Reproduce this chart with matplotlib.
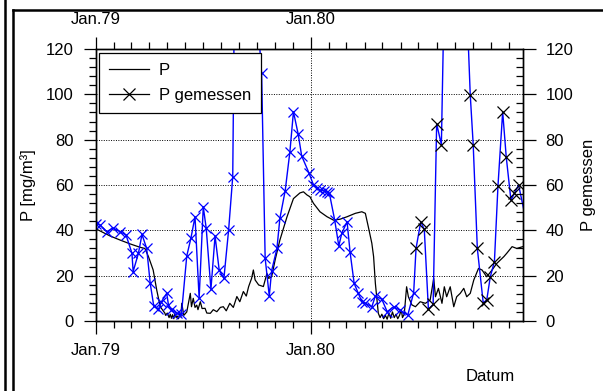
# -*- coding: utf-8 -*-
"""
P modell vs. P gemessen, Jan.79 - Jan.81
"""
import numpy as np
import matplotlib.pyplot as plt
from matplotlib.lines import Line2D
from matplotlib.ticker import MultipleLocator, FixedLocator

plt.rcParams['font.family'] = ['Liberation Sans', 'DejaVu Sans']
plt.rcParams['font.size'] = 12

# x = days since 1 Jan 1979
tick_days = [0, 365]
tick_labels = ['Jan.79', 'Jan.80']

# P (model)
p_day = [1, 24, 41, 58, 75, 83, 89, 97, 103, 109, 117,
         118, 121, 124, 126, 128, 130, 132, 134, 136, 138, 140, 142, 144,
         145.5, 149, 154, 160, 162, 165, 168, 171, 173, 177, 180, 185, 188,
         194, 199, 205, 211, 216, 221, 227, 233, 239, 244, 250, 255, 259,
         264, 267, 270, 276, 284, 290, 293, 298, 304, 312, 324, 335, 346,
         352, 358, 363, 369, 380, 392, 403, 414, 426, 440, 451, 457, 462,
         468, 471, 474, 479,
         482, 485, 488, 491, 494, 497, 500, 503, 506, 509, 512, 515, 518,
         520, 523,
         527, 530, 536, 542, 550, 559, 567, 573, 576, 581, 587, 591, 595,
         601, 607, 612, 618, 624, 629, 635, 641, 649, 655, 663, 672, 680,
         692, 697, 706, 714, 724]
p_val = [40.5, 37.5, 35.7, 34, 32.5, 32, 28.4, 22.5, 13.7, 6.3, 3.4,
         2.5, 3.5, 1.5, 3, 1.2, 2.8, 1, 3.2, 1.5, 2.2, 1, 3, 1.8,
         7.8, 2.5, 4, 12.2, 6.3, 10, 6, 7, 5, 8.5, 5.5, 5.6, 3.5,
         3.4, 5, 4.1, 6, 6.3, 4.5, 7.8, 6, 10.8, 8.5, 13, 11, 15.2,
         18.8, 22.5, 18.1, 15.9, 15.2, 21, 18.8, 19.5, 27, 35.7, 45.9, 54, 56.5,
         57, 55.6, 54.8, 51.9, 48.2, 46, 44.5, 44.9, 46, 47.5, 48.2, 47.5, 41.6,
         34.3, 28.4, 16.6, 3.4,
         1.5, 3, 1, 2.5, 0.8, 3.5, 1.2, 4, 1.5, 3, 1, 2.5, 5,
         1.5, 3,
         15.1, 10.7, 7.1, 6.3, 8.5, 7.8, 9.3, 18.8, 10.7, 14.4, 7.8, 15.1, 10.7,
         15.1, 6.3, 10.7, 12.2, 14.4, 10.7, 12.2, 18.1, 23.2, 22.5, 19.5, 22.5, 25.4,
         28.4, 29.9, 32.8, 32, 32.8]

# P gemessen, first part (blue crosses)
pm_day = [0, 7, 18, 29, 41, 51, 61, 63, 72, 78, 86, 92, 98, 106, 111,
          120, 123, 128, 137, 145, 154, 161, 168, 175, 182, 187, 195, 202,
          209, 217, 225, 232, 239, 281, 287, 294, 298, 307, 312, 321, 329,
          335, 343, 349, 361, 369, 375, 380, 386, 392, 396, 405, 412, 417,
          426, 431, 438, 445, 451, 457, 468, 474, 485, 494, 505, 515, 529, 539]
pm_val = [43, 42.3, 39.4, 41, 39.4, 37.9, 29.9, 21.8, 29.9, 38.2, 32, 16.6,
          6.6, 5.2, 8.5, 12.2, 7, 4.9, 3.4, 3.1, 28.7, 36.5, 46, 10, 50.4,
          40.9, 14, 37.5, 22.5, 18.8, 40.1, 63.7, 260, 109.3, 27.7, 11, 22.2,
          32, 45.3, 57.5, 74.7, 92.3, 82.5, 72.8, 65.5, 60, 58.5, 57.8, 57.5,
          57, 56.3, 44.5, 33.1, 38.7, 43.8, 30.6, 16.6, 12.2, 8.5, 7.8, 6.3,
          11, 9.6, 4.1, 6.3, 4.9, 2.6, 12.5]

# P gemessen, second part (black crosses)
pm2_day = [543, 551, 557, 564, 572, 578, 586, 603, 635, 640, 647, 657, 663,
           669, 676, 682, 690, 696, 704, 710, 717, 730]
pm2_val = [32, 43.8, 40.4, 5.2, 7.3, 87, 77.8, 316, 99.7, 77.8, 32, 8, 9.3,
           19.5, 26.2, 59.5, 92.3, 72.5, 53.4, 56.3, 60, 44]

fig = plt.figure(figsize=(6.03, 3.91), dpi=100)
ax = fig.add_axes([96 / 603, 70 / 391, 427.3 / 603, 272 / 391])

ax.plot(p_day, p_val, color='black', lw=0.9, zorder=3)
ax.plot(pm_day + pm2_day, pm_val + pm2_val, color='blue', lw=1.0, zorder=4)
ax.plot(pm_day, pm_val, ls='none', marker='x', ms=7, mew=0.9,
        color='blue', zorder=5)
ax.plot(pm2_day[:-1], pm2_val[:-1], ls='none', marker='x', ms=8, mew=0.9,
        color='black', zorder=5)

ax.set_xlim(0, 725)
ax.set_ylim(0, 120)

# month ticks
months = np.arange('1979-01', '1981-01', dtype='datetime64[M]').astype('datetime64[D]')
month_days = (months - np.datetime64('1979-01-01')).astype(int)
ax.xaxis.set_major_locator(FixedLocator(tick_days))
ax.set_xticklabels(tick_labels)
ax.xaxis.set_minor_locator(FixedLocator(month_days))
ax.yaxis.set_major_locator(MultipleLocator(20))
ax.yaxis.set_minor_locator(MultipleLocator(4))

ax.tick_params(which='both', direction='out', top=True, bottom=True,
               labeltop=True, right=False, width=0.9)
ax.tick_params(which='major', length=9, pad=7, labelsize=12)
ax.tick_params(which='minor', length=5)

for v in [20, 40, 60, 80, 100]:
    ax.axhline(v, color='black', lw=0.7, ls=(0, (1, 1.5)), zorder=1)
ax.axvline(365, color='black', lw=0.7, ls=(0, (1, 1.5)), zorder=1)

for s in ax.spines.values():
    s.set_linewidth(1.0)

ax.set_ylabel('P [mg/m³]', fontsize=12)
ax.yaxis.set_label_coords(-0.140, 0.5)
ax.set_xlabel('Datum', fontsize=12)
ax.xaxis.set_label_coords(0.922, -0.176)

ax2 = ax.twinx()
ax2.set_ylim(0, 120)
ax2.yaxis.set_major_locator(MultipleLocator(20))
ax2.yaxis.set_minor_locator(MultipleLocator(4))
ax2.tick_params(which='major', direction='out', length=9, pad=7,
                labelsize=12, width=0.9)
ax2.tick_params(which='minor', direction='in', length=5, width=0.9)
ax2.set_ylabel('P gemessen', fontsize=12)
ax2.yaxis.set_label_coords(1.135, 0.5)
for s in ax2.spines.values():
    s.set_linewidth(1.0)

handles = [Line2D([], [], color='black', lw=0.9),
           Line2D([], [], color='black', lw=0.9, marker='x', ms=8, mew=0.9)]
leg = ax.legend(handles, ['P', 'P gemessen'], loc='upper left',
                bbox_to_anchor=(0.007, 0.985), borderaxespad=0,
                fancybox=False, framealpha=1, edgecolor='black',
                handlelength=2.4, handletextpad=0.6, labelspacing=0.6,
                fontsize=12, borderpad=0.6)
leg.get_frame().set_linewidth(0.9)
leg.set_zorder(10)

# outer frame lines of the page
fig.add_artist(Line2D([5 / 603, 5 / 603], [0, 1], color='black', lw=1.8))
fig.add_artist(Line2D([12.5 / 603, 12.5 / 603], [0, 1 - 10 / 391], color='black', lw=1.8))
fig.add_artist(Line2D([12.5 / 603, 1], [1 - 10 / 391, 1 - 10 / 391], color='black', lw=1.8))

fig.savefig('out.png', dpi=100)
